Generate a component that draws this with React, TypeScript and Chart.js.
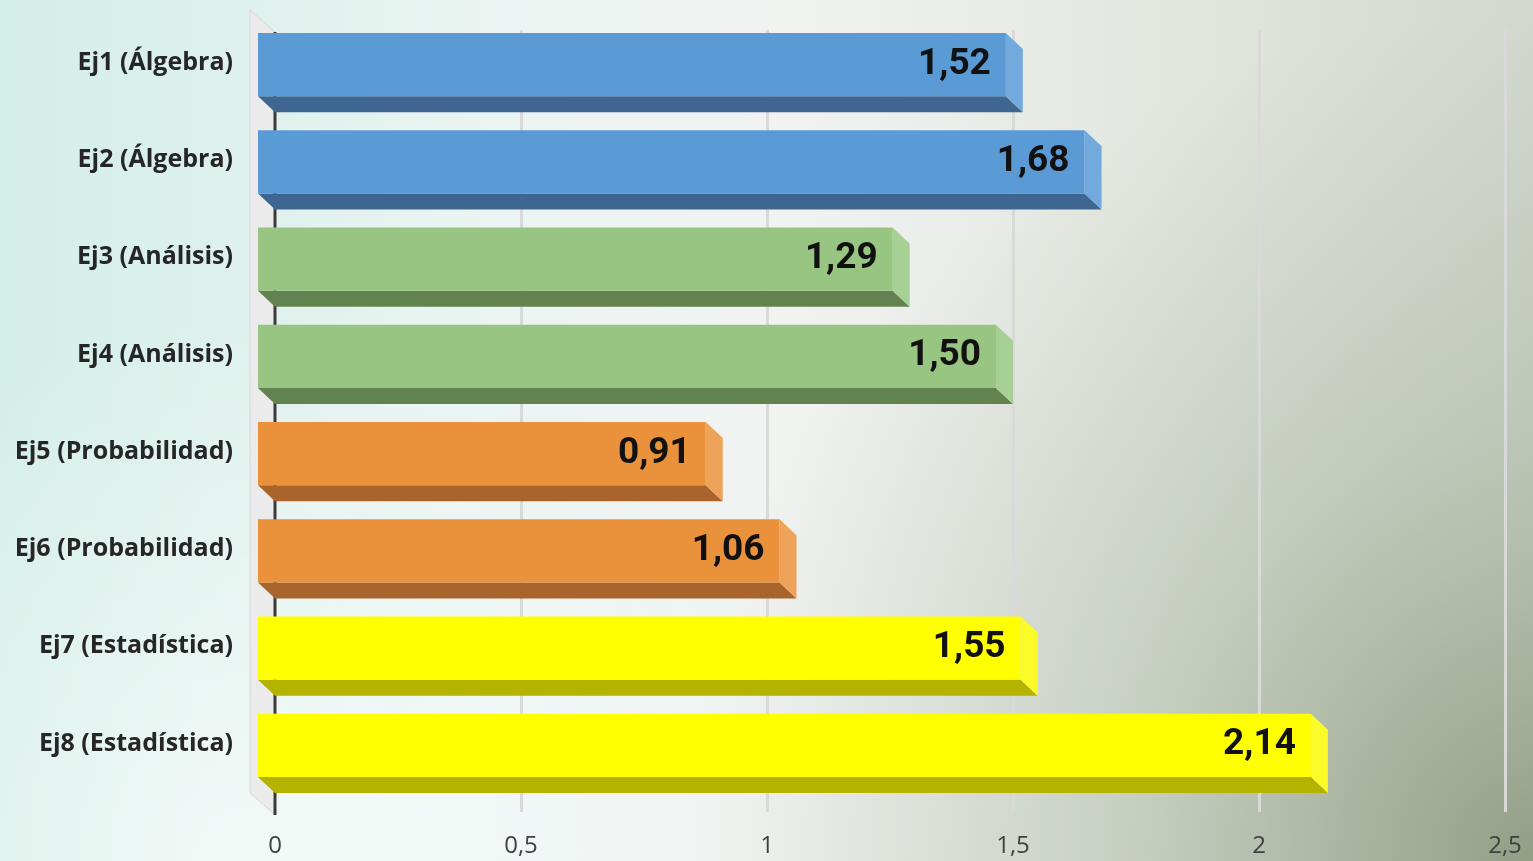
import React, { useEffect, useRef } from 'react';
import { Chart, registerables } from 'chart.js';

Chart.register(...registerables);

const categories = [
  'Ej1 (Álgebra)',
  'Ej2 (Álgebra)',
  'Ej3 (Análisis)',
  'Ej4 (Análisis)',
  'Ej5 (Probabilidad)',
  'Ej6 (Probabilidad)',
  'Ej7 (Estadística)',
  'Ej8 (Estadística)',
];
const values = [1.52, 1.68, 1.29, 1.5, 0.91, 1.06, 1.55, 2.14];
const valueLabels = ['1,52', '1,68', '1,29', '1,50', '0,91', '1,06', '1,55', '2,14'];
const xTickValues = [0, 0.5, 1, 1.5, 2, 2.5];
const xTickLabels = ['0', '0,5', '1', '1,5', '2', '2,5'];

const frontColors = ['#5b9bd5', '#5b9bd5', '#98c582', '#98c582', '#e9923b', '#e9923b', '#ffff00', '#ffff00'];
const bottomColors = ['#3e6690', '#3e6690', '#62834f', '#62834f', '#a8642b', '#a8642b', '#b3b300', '#b3b300'];
const sideColors = ['#72aade', '#72aade', '#a7d094', '#a7d094', '#eea35a', '#eea35a', '#fbfb2a', '#fbfb2a'];

const DX = 17;
const DY = 16;

const bgPlugin = {
  id: 'bgPlugin',
  beforeDraw(chart: any) {
    const { ctx, width, height } = chart;
    ctx.save();
    const g = ctx.createLinearGradient(0, 0, width, 0);
    g.addColorStop(0, '#d3eee7');
    g.addColorStop(0.3, '#e9f4f1');
    g.addColorStop(0.5, '#f1f3f1');
    g.addColorStop(0.75, '#e3e7e0');
    g.addColorStop(1, '#d2d8cd');
    ctx.fillStyle = g;
    ctx.fillRect(0, 0, width, height);
    const r = ctx.createRadialGradient(width, height, 0, width, height, 850);
    r.addColorStop(0, 'rgba(130,145,115,0.8)');
    r.addColorStop(0.5, 'rgba(150,165,140,0.35)');
    r.addColorStop(1, 'rgba(160,170,150,0)');
    ctx.fillStyle = r;
    ctx.fillRect(0, 0, width, height);
    const w = ctx.createRadialGradient(250, height, 0, 250, height, 550);
    w.addColorStop(0, 'rgba(255,255,255,0.6)');
    w.addColorStop(1, 'rgba(255,255,255,0)');
    ctx.fillStyle = w;
    ctx.fillRect(0, 0, width, height);
    ctx.restore();
  },
};

const depthPlugin = {
  id: 'depthPlugin',
  beforeDatasetsDraw(chart: any) {
    const { ctx, chartArea } = chart;
    const xs = chart.scales.x;
    const { left, top, bottom } = chartArea;
    ctx.save();
    // gridlines in back plane
    ctx.strokeStyle = '#d9d9d9';
    ctx.lineWidth = 3;
    xTickValues.forEach((v) => {
      if (v === 0) return;
      const px = Math.round(xs.getPixelForValue(v) + DX) + 0.5;
      ctx.beginPath();
      ctx.moveTo(px, top + DY - 2);
      ctx.lineTo(px, bottom + DY + 2);
      ctx.stroke();
    });
    // left wall
    ctx.fillStyle = '#ebebeb';
    ctx.beginPath();
    ctx.moveTo(left - 8, top - 6);
    ctx.lineTo(left + DX, top + DY);
    ctx.lineTo(left + DX, bottom + DY + 5);
    ctx.lineTo(left - 8, bottom - 1);
    ctx.closePath();
    ctx.fill();
    ctx.strokeStyle = 'rgba(200,200,200,0.6)';
    ctx.lineWidth = 1;
    ctx.stroke();
    // axis line
    ctx.strokeStyle = '#3a3a3a';
    ctx.lineWidth = 3;
    const ax = xs.getPixelForValue(0) + DX;
    ctx.beginPath();
    ctx.moveTo(ax, top + DY);
    ctx.lineTo(ax, bottom + DY + 5);
    ctx.stroke();

    // bar depth faces
    const meta = chart.getDatasetMeta(0);
    meta.data.forEach((el: any, i: number) => {
      const p = el.getProps(['x', 'y', 'base', 'height'], true);
      const t = p.y - p.height / 2;
      const b = p.y + p.height / 2;
      const l = p.base;
      const rr = p.x;
      // bottom face
      ctx.fillStyle = bottomColors[i];
      ctx.beginPath();
      ctx.moveTo(l, b);
      ctx.lineTo(rr, b);
      ctx.lineTo(rr + DX, b + DY);
      ctx.lineTo(l + DX, b + DY);
      ctx.closePath();
      ctx.fill();
      // side face
      ctx.fillStyle = sideColors[i];
      ctx.beginPath();
      ctx.moveTo(rr, t);
      ctx.lineTo(rr + DX, t + DY);
      ctx.lineTo(rr + DX, b + DY);
      ctx.lineTo(rr, b);
      ctx.closePath();
      ctx.fill();
    });
    ctx.restore();
  },
  afterDatasetsDraw(chart: any) {
    const { ctx } = chart;
    const meta = chart.getDatasetMeta(0);
    ctx.save();
    ctx.font = '700 37px Roboto';
    ctx.fillStyle = '#111111';
    ctx.textAlign = 'right';
    ctx.textBaseline = 'alphabetic';
    meta.data.forEach((el: any, i: number) => {
      const p = el.getProps(['x', 'y'], true);
      ctx.fillText(valueLabels[i], p.x - 15, p.y + 9);
    });
    ctx.restore();
  },
};

const zeroPad = (s: any) => {
  s.paddingTop = 0;
  s.paddingBottom = 0;
  s.paddingLeft = 0;
  s.paddingRight = 0;
};

export default function App() {
  const ref = useRef<HTMLCanvasElement | null>(null);
  useEffect(() => {
    if (!ref.current) return;
    const chart = new Chart(ref.current, {
      type: 'bar',
      data: {
        labels: categories,
        datasets: [
          {
            data: values,
            backgroundColor: frontColors,
            borderWidth: 0,
            barPercentage: 0.648,
            categoryPercentage: 1,
          },
        ],
      },
      options: {
        indexAxis: 'y',
        responsive: false,
        animation: false,
        devicePixelRatio: 1,
        layout: { padding: { top: 16, right: 45, left: 0, bottom: 0 } },
        plugins: {
          legend: { display: false },
          tooltip: { enabled: false },
        },
        scales: {
          x: {
            min: 0,
            max: 2.5,
            afterFit: (s: any) => {
              s.height = 67;
              zeroPad(s);
            },
            afterBuildTicks: (s: any) => {
              s.ticks = xTickValues.map((v) => ({ value: v }));
            },
            grid: { display: false, drawTicks: false },
            border: { display: false },
            ticks: {
              labelOffset: DX,
              padding: 38,
              color: '#404040',
              font: { family: "'Open Sans'", size: 24 },
              callback: (v: any) => {
                const i = xTickValues.indexOf(Number(v));
                return i >= 0 ? xTickLabels[i] : '';
              },
            },
          },
          y: {
            afterFit: (s: any) => {
              s.width = 258;
              zeroPad(s);
            },
            grid: { display: false, drawTicks: false },
            border: { display: false },
            ticks: {
              padding: 25,
              labelOffset: -2,
              color: '#262626',
              font: { family: "'Open Sans'", size: 25, weight: 'bold' },
            },
          },
        },
      },
      plugins: [bgPlugin, depthPlugin],
    } as any);
    return () => chart.destroy();
  }, []);
  return (
    <div style={{ position: 'fixed', left: 0, top: 0, width: 1533, height: 861 }}>
      <canvas ref={ref} width={1533} height={861} style={{ width: 1533, height: 861, display: 'block' }} />
    </div>
  );
}
